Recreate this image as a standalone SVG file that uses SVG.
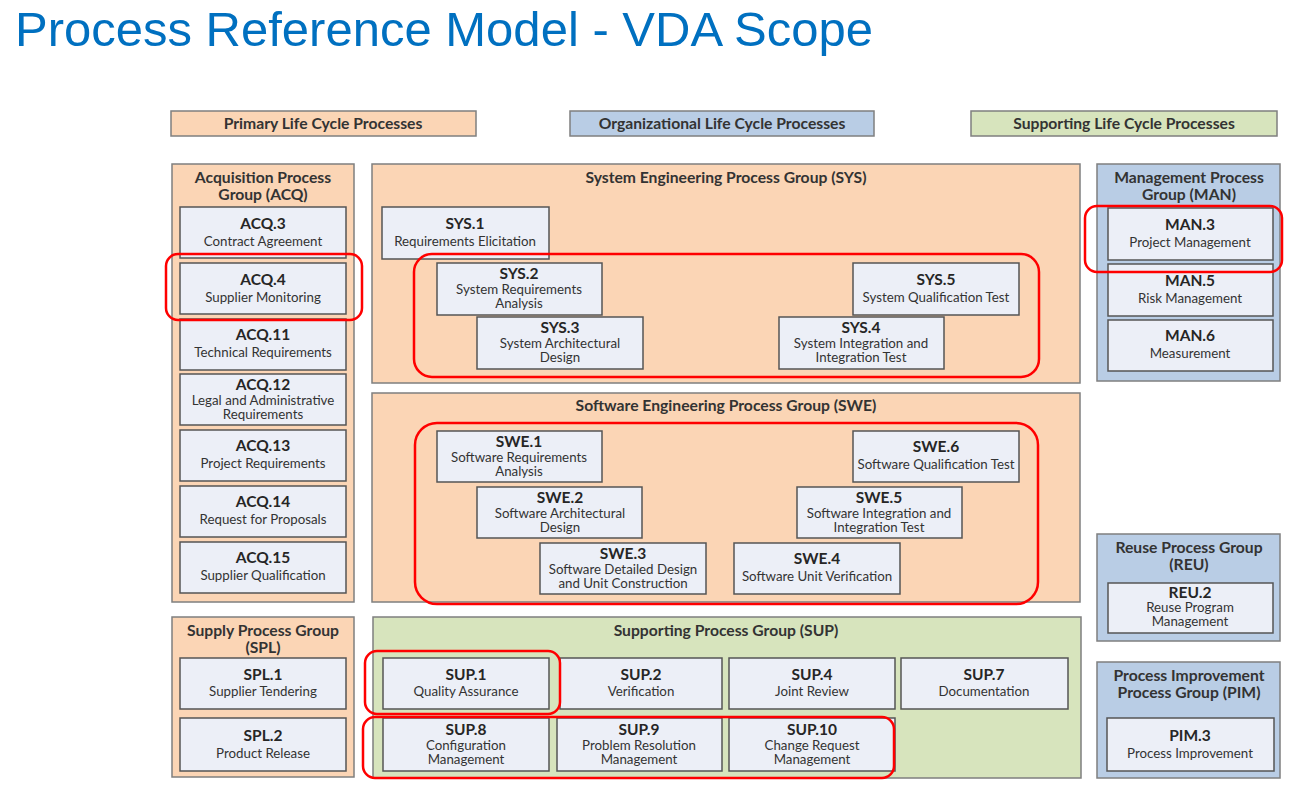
<svg xmlns="http://www.w3.org/2000/svg" width="1302" height="802" viewBox="0 0 1302 802">
<style>
.bg{fill:#ffffff}
.title{font-family:"Liberation Sans",Arial,sans-serif;font-size:49px;fill:#0070C0}
.peach{fill:#FBD5B5;stroke:#7F7F7F;stroke-width:1.5}
.blue{fill:#B9CDE5;stroke:#7F7F7F;stroke-width:1.5}
.green{fill:#D7E4BD;stroke:#7F7F7F;stroke-width:1.5}
.box{fill:#ECEFF7;stroke:#555555;stroke-width:1.5}
.hl{fill:none;stroke:#FF0000;stroke-width:2.5}
.gt{font-family:Lato,"Noto Sans",sans-serif;font-weight:bold;font-size:15.7px;fill:#333333;text-anchor:middle}
.id{font-family:Lato,"Noto Sans",sans-serif;font-weight:bold;font-size:15.5px;fill:#262626;text-anchor:middle}
.ds{font-family:Lato,"Noto Sans",sans-serif;font-size:13.3px;fill:#333333;text-anchor:middle}
</style>
<rect class="bg" x="0" y="0" width="1302" height="802"/>
<text class="title" x="15" y="46">Process Reference Model - VDA Scope</text>

<g id="legend-primary"><rect class="peach" x="171" y="111" width="305" height="25"/><text class="gt" x="323" y="129">Primary Life Cycle Processes</text></g>
<g id="legend-organizational"><rect class="blue" x="570" y="111" width="304" height="25"/><text class="gt" x="722" y="129">Organizational Life Cycle Processes</text></g>
<g id="legend-supporting"><rect class="green" x="971" y="111" width="306" height="25"/><text class="gt" x="1124" y="129">Supporting Life Cycle Processes</text></g>

<g id="group-acq"><rect class="peach" x="172" y="164" width="182" height="438"/><text class="gt" x="263" y="183">Acquisition Process</text><text class="gt" x="263" y="200">Group (ACQ)</text></g>
<g id="acq3"><rect class="box" x="180" y="207" width="166" height="51"/><text class="id" x="263" y="229">ACQ.3</text><text class="ds" x="263" y="246">Contract Agreement</text></g>
<g id="acq4"><rect class="box" x="180" y="263" width="166" height="51"/><text class="id" x="263" y="285">ACQ.4</text><text class="ds" x="263" y="302">Supplier Monitoring</text></g>
<g id="acq11"><rect class="box" x="180" y="319" width="166" height="51"/><text class="id" x="263" y="340">ACQ.11</text><text class="ds" x="263" y="357">Technical Requirements</text></g>
<g id="acq12"><rect class="box" x="180" y="374" width="166" height="51"/><text class="id" x="263" y="390">ACQ.12</text><text class="ds" x="263" y="405">Legal and Administrative</text><text class="ds" x="263" y="419">Requirements</text></g>
<g id="acq13"><rect class="box" x="180" y="430" width="166" height="51"/><text class="id" x="263" y="451">ACQ.13</text><text class="ds" x="263" y="468">Project Requirements</text></g>
<g id="acq14"><rect class="box" x="180" y="486" width="166" height="51"/><text class="id" x="263" y="507">ACQ.14</text><text class="ds" x="263" y="524">Request for Proposals</text></g>
<g id="acq15"><rect class="box" x="180" y="542" width="166" height="51"/><text class="id" x="263" y="563">ACQ.15</text><text class="ds" x="263" y="580">Supplier Qualification</text></g>

<g id="group-sys"><rect class="peach" x="372" y="164" width="708" height="219"/><text class="gt" x="726" y="183">System Engineering Process Group (SYS)</text></g>
<g id="sys1"><rect class="box" x="382" y="207" width="167" height="52"/><text class="id" x="465" y="229">SYS.1</text><text class="ds" x="465" y="246">Requirements Elicitation</text></g>
<g id="sys2"><rect class="box" x="437" y="263" width="165" height="52"/><text class="id" x="519" y="279">SYS.2</text><text class="ds" x="519" y="294">System Requirements</text><text class="ds" x="519" y="308">Analysis</text></g>
<g id="sys3"><rect class="box" x="477" y="317" width="166" height="52"/><text class="id" x="560" y="333">SYS.3</text><text class="ds" x="560" y="348">System Architectural</text><text class="ds" x="560" y="362">Design</text></g>
<g id="sys4"><rect class="box" x="779" y="317" width="165" height="52"/><text class="id" x="861" y="333">SYS.4</text><text class="ds" x="861" y="348">System Integration and</text><text class="ds" x="861" y="362">Integration Test</text></g>
<g id="sys5"><rect class="box" x="853" y="263" width="166" height="52"/><text class="id" x="936" y="285">SYS.5</text><text class="ds" x="936" y="302">System Qualification Test</text></g>

<g id="group-swe"><rect class="peach" x="372" y="393" width="708" height="209"/><text class="gt" x="726" y="411">Software Engineering Process Group (SWE)</text></g>
<g id="swe1"><rect class="box" x="437" y="431" width="165" height="51"/><text class="id" x="519" y="447">SWE.1</text><text class="ds" x="519" y="462">Software Requirements</text><text class="ds" x="519" y="476">Analysis</text></g>
<g id="swe2"><rect class="box" x="477" y="487" width="165" height="51"/><text class="id" x="560" y="503">SWE.2</text><text class="ds" x="560" y="518">Software Architectural</text><text class="ds" x="560" y="532">Design</text></g>
<g id="swe3"><rect class="box" x="540" y="543" width="166" height="51"/><text class="id" x="623" y="559">SWE.3</text><text class="ds" x="623" y="574">Software Detailed Design</text><text class="ds" x="623" y="588">and Unit Construction</text></g>
<g id="swe4"><rect class="box" x="734" y="543" width="166" height="51"/><text class="id" x="817" y="564">SWE.4</text><text class="ds" x="817" y="581">Software Unit Verification</text></g>
<g id="swe5"><rect class="box" x="797" y="487" width="165" height="51"/><text class="id" x="879" y="503">SWE.5</text><text class="ds" x="879" y="518">Software Integration and</text><text class="ds" x="879" y="532">Integration Test</text></g>
<g id="swe6"><rect class="box" x="853" y="431" width="166" height="51"/><text class="id" x="936" y="452">SWE.6</text><text class="ds" x="936" y="469">Software Qualification Test</text></g>

<g id="group-man"><rect class="blue" x="1097" y="164" width="183" height="217"/><text class="gt" x="1189" y="183">Management Process</text><text class="gt" x="1189" y="200">Group (MAN)</text></g>
<g id="man3"><rect class="box" x="1108" y="208" width="165" height="52"/><text class="id" x="1190" y="230">MAN.3</text><text class="ds" x="1190" y="247">Project Management</text></g>
<g id="man5"><rect class="box" x="1108" y="264" width="165" height="52"/><text class="id" x="1190" y="286">MAN.5</text><text class="ds" x="1190" y="303">Risk Management</text></g>
<g id="man6"><rect class="box" x="1108" y="320" width="165" height="51"/><text class="id" x="1190" y="341">MAN.6</text><text class="ds" x="1190" y="358">Measurement</text></g>

<g id="group-reu"><rect class="blue" x="1097" y="534" width="183" height="107"/><text class="gt" x="1189" y="553">Reuse Process Group</text><text class="gt" x="1189" y="570">(REU)</text></g>
<g id="reu2"><rect class="box" x="1108" y="583" width="165" height="50"/><text class="id" x="1190" y="598">REU.2</text><text class="ds" x="1190" y="612">Reuse Program</text><text class="ds" x="1190" y="626">Management</text></g>

<g id="group-pim"><rect class="blue" x="1097" y="662" width="183" height="116"/><text class="gt" x="1189" y="681">Process Improvement</text><text class="gt" x="1189" y="698">Process Group (PIM)</text></g>
<g id="pim3"><rect class="box" x="1107" y="718" width="167" height="53"/><text class="id" x="1190" y="741">PIM.3</text><text class="ds" x="1190" y="758">Process Improvement</text></g>

<g id="group-spl"><rect class="peach" x="172" y="617" width="182" height="160"/><text class="gt" x="263" y="636">Supply Process Group</text><text class="gt" x="263" y="653">(SPL)</text></g>
<g id="spl1"><rect class="box" x="180" y="658" width="166" height="51"/><text class="id" x="263" y="680">SPL.1</text><text class="ds" x="263" y="696">Supplier Tendering</text></g>
<g id="spl2"><rect class="box" x="180" y="718" width="166" height="53"/><text class="id" x="263" y="741">SPL.2</text><text class="ds" x="263" y="758">Product Release</text></g>

<g id="group-sup"><rect class="green" x="373" y="617" width="708" height="161"/><text class="gt" x="726" y="636">Supporting Process Group (SUP)</text></g>
<g id="sup1"><rect class="box" x="383" y="658" width="166" height="51"/><text class="id" x="466" y="680">SUP.1</text><text class="ds" x="466" y="696">Quality Assurance</text></g>
<g id="sup2"><rect class="box" x="560" y="658" width="162" height="51"/><text class="id" x="641" y="680">SUP.2</text><text class="ds" x="641" y="696">Verification</text></g>
<g id="sup4"><rect class="box" x="729" y="658" width="166" height="51"/><text class="id" x="812" y="680">SUP.4</text><text class="ds" x="812" y="696">Joint Review</text></g>
<g id="sup7"><rect class="box" x="901" y="658" width="167" height="51"/><text class="id" x="984" y="680">SUP.7</text><text class="ds" x="984" y="696">Documentation</text></g>
<g id="sup8"><rect class="box" x="383" y="718" width="166" height="53"/><text class="id" x="466" y="735">SUP.8</text><text class="ds" x="466" y="750">Configuration</text><text class="ds" x="466" y="764">Management</text></g>
<g id="sup9"><rect class="box" x="557" y="718" width="165" height="53"/><text class="id" x="639" y="735">SUP.9</text><text class="ds" x="639" y="750">Problem Resolution</text><text class="ds" x="639" y="764">Management</text></g>
<g id="sup10"><rect class="box" x="729" y="718" width="166" height="53"/><text class="id" x="812" y="735">SUP.10</text><text class="ds" x="812" y="750">Change Request</text><text class="ds" x="812" y="764">Management</text></g>

<g id="highlights">
<rect class="hl" x="166" y="254" width="196" height="66" rx="12"/>
<rect class="hl" x="414" y="254" width="625" height="123" rx="18"/>
<rect class="hl" x="415" y="423" width="623" height="181" rx="22"/>
<rect class="hl" x="1085" y="206" width="197" height="66" rx="12"/>
<rect class="hl" x="365" y="651" width="195" height="63" rx="12"/>
<rect class="hl" x="363" y="717" width="531" height="61" rx="12"/>
</g>
</svg>
